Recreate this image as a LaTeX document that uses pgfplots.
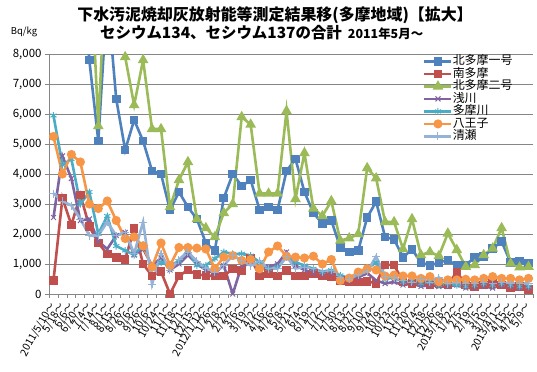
\documentclass[border=0pt]{standalone}
\usepackage{fontspec}
\setmainfont{Noto Sans CJK JP}
\usepackage{pgfplots}
\usepackage{pgfplotstable}
\pgfplotsset{compat=1.18}
\definecolor{c1}{HTML}{4F81BD}
\definecolor{c2}{HTML}{C0504D}
\definecolor{c3}{HTML}{9BBB59}
\definecolor{c4}{HTML}{8064A2}
\definecolor{c5}{HTML}{4BACC6}
\definecolor{c6}{HTML}{F79646}
\definecolor{c7}{HTML}{95B3D7}
\definecolor{gridc}{HTML}{868686}
% columns: b=北多摩一号 r=南多摩 g=北多摩二号 p=浅川 c=多摩川 o=八王子 l=清瀬 (values above 8000 lie off the chart)
\pgfplotstableread{
b r g p c o l
12000 450 12000 2550 5950 5250 3350
12000 3200 12000 4600 4300 4000 3100
12000 2300 12000 3850 4500 4650 2950
12000 3300 12000 2450 3000 4400 2500
7800 2250 12000 2500 3400 3000 1950
5100 1700 5600 1750 2000 2850 1950
10000 1330 12000 1500 2600 3100 2400
6500 1220 12000 1950 1600 2450 1950
4800 1150 7900 2050 1450 1850 2050
5800 2180 6300 1300 1300 1900 1350
5100 1000 7800 1500 1650 1600 2400
4100 600 5500 950 850 900 330
4000 750 5500 1200 1050 1700 1350
2800 0 2900 800 950 950 800
3400 600 3800 1000 1100 1550 1150
2900 800 4400 1300 1450 1550 1400
2500 650 2500 1000 950 1530 1100
1700 620 2200 800 950 1500 850
1450 600 1900 700 1180 850 730
3200 600 2700 950 1400 1230 950
4000 840 3000 0 1340 1280 1280
3600 790 5900 950 1340 1120 1120
3800 1200 5650 1100 1280 1150 950
2800 600 3350 800 1060 840 1100
2900 680 3350 900 840 1400 850
2800 600 3350 1000 900 1600 850
4100 790 6100 1400 1230 1260 1250
4500 600 3170 950 1060 1230 850
3400 600 4700 800 950 1200 900
2700 680 2850 700 840 1260 850
2350 600 2600 650 730 1000 750
2450 570 3100 700 790 1150 800
1550 450 1780 500 620 450 550
1400 400 1860 450 530 530 500
1450 400 2000 550 680 730 650
2550 420 4200 700 850 840 750
3080 360 3860 450 1050 800 1250
1900 970 2400 350 500 600 600
1820 970 2400 400 550 630 550
1220 400 1500 300 400 600 450
1490 350 2500 350 450 600 400
1050 400 1300 250 350 520 500
950 300 1400 300 400 580 400
1050 350 1270 250 300 410 550
1130 300 2020 250 350 470 350
950 740 1470 300 300 470 400
970 300 910 200 250 490 350
1220 250 970 200 300 470 350
1250 300 1300 250 350 520 400
1520 350 1520 200 300 580 350
1750 300 2200 300 350 520 400
1050 200 1020 250 300 520 350
1100 250 890 200 250 470 350
1030 150 910 200 250 520 350
}\datatable
\begin{document}
\begin{tikzpicture}
\path[use as bounding box] (0bp,0bp) rectangle (537bp,372bp);
\begin{axis}[
  at={(49bp,78bp)}, anchor=south west,
  scale only axis, width=484bp, height=240bp,
  xmin=0, xmax=54, ymin=0, ymax=8000,
  axis lines=left,
  axis line style={-, draw=gridc, line width=0.8bp},
  xtick={0,...,54},
  x tick label as interval,
  xticklabels={2011/5/10～,5/18～,6/6～,6/20～,7/4～,7/14～,8/1～,8/15～,8/26～,9/6～,9/26～,10/6～,10/24～,11/1～,11/18～,12/1～,12/15～,2012/1/12～,1/26～,2/8～,2/22～,3/6～,3/19～,4/2～,4/16～,4/26～,5/8～,5/21～,6/4～,6/19～,7/2～,7/17～,7/30～,8/13～,8/27～,9/10～,9/24～,10/9～,10/23～,11/5～,11/20～,12/4～,12/18～,12/26～,2013/1/8～,1/22～,2/5～,2/19～,3/5～,3/19～,2013/4/1～,4/15～,4/25～,5/9～},
  xticklabel style={rotate=60, anchor=east, font=\fontsize{10.5}{10.5}\selectfont, inner sep=1bp},
  xticklabel shift=5bp,
  ytick={0,1000,...,8000},
  yticklabel style={font=\fontsize{11.5}{11.5}\selectfont},
  /pgf/number format/.cd, 1000 sep={,}, assume math mode=true, /pgfplots/.cd,
  tick align=outside, major tick length=4bp,
  tick style={draw=gridc, line width=0.8bp},
  ymajorgrids, grid style={draw=gridc, line width=0.8bp},
  every axis plot/.append style={line width=2.6bp},
  legend style={at={(0.7727,0.996)}, anchor=north west, draw=none, fill=none,
    font=\fontsize{12}{12}\selectfont, inner sep=0pt, row sep=0pt,
    nodes={inner sep=0pt, text height=9.5bp, text depth=3bp}},
  legend cell align=left,
  legend image code/.code={\draw[mark repeat=2,mark phase=2,#1] plot coordinates {(0bp,0bp) (13.5bp,0bp) (27bp,0bp)};},
]
\addplot[c1, mark=square*, mark size=3bp, mark options={solid, fill=c1}] table[x expr=\coordindex+0.5, y=b] {\datatable};
\addlegendentry{北多摩一号}
\addplot[c2, mark=square*, mark size=3bp, mark options={solid, fill=c2}] table[x expr=\coordindex+0.5, y=r] {\datatable};
\addlegendentry{南多摩}
\addplot[c3, mark=triangle*, mark size=3.6bp, mark options={solid, fill=c3}] table[x expr=\coordindex+0.5, y=g] {\datatable};
\addlegendentry{北多摩二号}
\addplot[c4, mark=x, mark size=3.5bp, mark options={solid, line width=1bp}] table[x expr=\coordindex+0.5, y=p] {\datatable};
\addlegendentry{浅川}
\addplot[c5, mark=asterisk, mark size=3.5bp, mark options={solid, line width=1bp}] table[x expr=\coordindex+0.5, y=c] {\datatable};
\addlegendentry{多摩川}
\addplot[c6, mark=*, mark size=3.2bp, mark options={solid, fill=c6}] table[x expr=\coordindex+0.5, y=o] {\datatable};
\addlegendentry{八王子}
\addplot[c7, mark=+, mark size=4bp, mark options={solid, line width=1bp}] table[x expr=\coordindex+0.5, y=l] {\datatable};
\addlegendentry{清瀬}
\end{axis}
\node[font=\fontsize{16}{16}\selectfont\bfseries] at (275bp,357bp) {下水汚泥焼却灰放射能等測定結果移(多摩地域)【拡大】};
\node[anchor=west, font=\fontsize{15.5}{15.5}\selectfont\bfseries, inner sep=0pt] at (100bp,339bp) {セシウム134、セシウム137の合計\hspace{6bp}{\fontsize{12.5}{12.5}\selectfont 2011年5月～}};
\node[font=\fontsize{9.5}{9.5}\selectfont] at (24bp,340bp) {Bq/kg};
\end{tikzpicture}
\end{document}
